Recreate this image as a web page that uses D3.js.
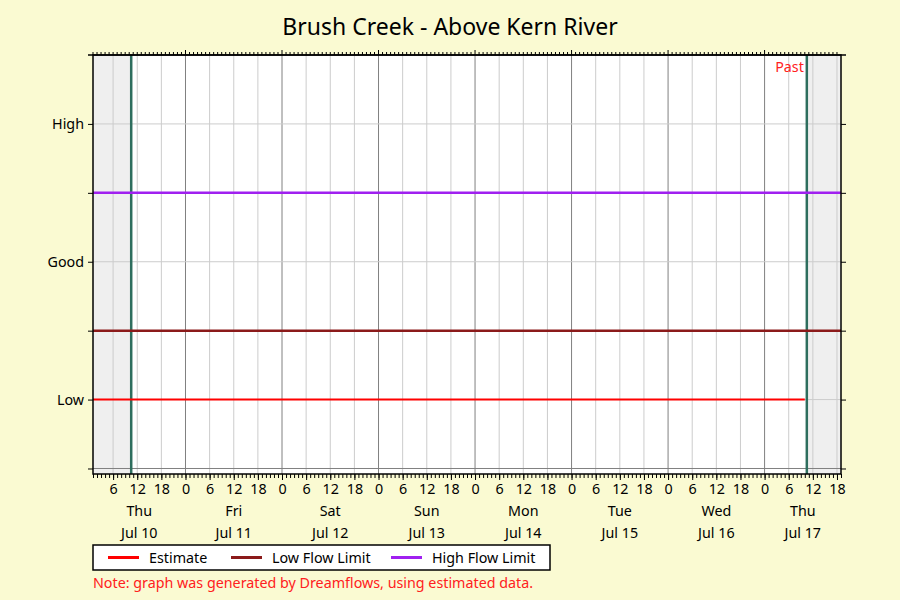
<!DOCTYPE html>
<html>
<head>
<meta charset="utf-8">
<script src="https://cdn.jsdelivr.net/npm/d3@7"></script>
<style>
  body { margin: 0; background: #fafad2; }
  text { font-family: "Noto Sans", "Open Sans", sans-serif; }
</style>
</head>
<body>
<svg id="chart" width="900" height="600"></svg>
<script>
// chart data
const title = "Brush Creek - Above Kern River";
const domainTimes = ["2025-07-10T01:00", "2025-07-17T19:00"];
const nowTimes = ["2025-07-10T10:30", "2025-07-17T10:30"];
const levelLabels = ["Low", "Good", "High"];
const levelValues = [1, 3, 5];
const estimateTimes = ["2025-07-10T01:00", "2025-07-17T10:00"];
const estimateValues = [1, 1];
const lowFlowLimit = 2;
const highFlowLimit = 4;
const legendLabels = ["Estimate", "Low Flow Limit", "High Flow Limit"];
const legendColors = ["#ff0000", "#8b1a1a", "#a020f0"];
const noteText = "Note: graph was generated by Dreamflows, using estimated data.";

const parse = d3.utcParse("%Y-%m-%dT%H:%M");
const svg = d3.select("#chart");
const fs = 14.3;

const margin = { top: 55, right: 59, bottom: 126, left: 93 };
const width = 900 - margin.left - margin.right;
const height = 600 - margin.top - margin.bottom;

const x = d3.scaleUtc()
    .domain(domainTimes.map(parse))
    .range([0, width]);

const y = d3.scaleLinear()
    .domain([-0.08, 6])
    .range([height, 0]);

svg.append("rect").attr("width", 900).attr("height", 600).attr("fill", "#fafad2");

svg.append("text")
    .attr("x", 450).attr("y", 35)
    .attr("text-anchor", "middle")
    .attr("font-size", 23)
    .text(title);

const g = svg.append("g").attr("transform", `translate(${margin.left},${margin.top})`);

// plot background + shaded regions
g.append("rect").attr("width", width).attr("height", height).attr("fill", "#fff");
const [t0, t1] = x.domain();
const nows = nowTimes.map(parse);
g.append("rect").attr("x", 0).attr("width", x(nows[0])).attr("height", height).attr("fill", "#efefef");
g.append("rect").attr("x", x(nows[1])).attr("width", width - x(nows[1])).attr("height", height).attr("fill", "#efefef");

// grid
const sixHours = d3.utcHour.every(6).range(t0, t1);
g.append("g").selectAll("line")
    .data(sixHours)
    .join("line")
    .attr("x1", d => x(d)).attr("x2", d => x(d))
    .attr("y1", 0).attr("y2", height)
    .attr("stroke", d => d.getUTCHours() === 0 ? "#808080" : "#cccccc")
    .attr("stroke-width", 1);

g.append("g").selectAll("line")
    .data([0, 1, 2, 3, 4, 5])
    .join("line")
    .attr("x1", 0).attr("x2", width)
    .attr("y1", d => y(d)).attr("y2", d => y(d))
    .attr("stroke", d => d === 0 ? "#808080" : "#cccccc");

// now lines
g.append("g").selectAll("line")
    .data(nows)
    .join("line")
    .attr("x1", d => x(d)).attr("x2", d => x(d))
    .attr("y1", 0).attr("y2", height)
    .attr("stroke", "#2e6e5e")
    .attr("stroke-width", 2.5);

g.append("text")
    .attr("x", x(nows[1]) - 3).attr("y", 17)
    .attr("text-anchor", "end")
    .attr("font-size", fs)
    .attr("fill", "#ff2020")
    .text("Past");

// limits
[[lowFlowLimit, legendColors[1]], [highFlowLimit, legendColors[2]]].forEach(([v, c]) => {
    g.append("line")
        .attr("x1", 0).attr("x2", width)
        .attr("y1", y(v)).attr("y2", y(v))
        .attr("stroke", c).attr("stroke-width", 2.5);
});

// estimate
const estimate = estimateTimes.map((t, i) => ({ t: parse(t), v: estimateValues[i] }));
g.append("path")
    .datum(estimate)
    .attr("fill", "none")
    .attr("stroke", legendColors[0])
    .attr("stroke-width", 2)
    .attr("d", d3.line().x(d => x(d.t)).y(d => y(d.v)));

// frame
g.append("rect").attr("width", width).attr("height", height)
    .attr("fill", "none").attr("stroke", "#000").attr("stroke-width", 1.5);
g.append("line").attr("x1", -5).attr("x2", width + 5).attr("y1", 0).attr("y2", 0)
    .attr("stroke", "#000").attr("stroke-width", 1.5);

// top ticks
const hours = d3.utcHour.every(1).range(t0, t1);
g.append("g").selectAll("line")
    .data(hours)
    .join("line")
    .attr("x1", d => x(d)).attr("x2", d => x(d))
    .attr("y1", 0).attr("y2", d => d.getUTCHours() === 0 ? -5 : -3)
    .attr("stroke", "#000");

// bottom axis: hourly minor ticks, 6h labels
g.append("g")
    .attr("transform", `translate(0,${height})`)
    .call(d3.axisBottom(x).ticks(d3.utcHour.every(1)).tickSize(4).tickFormat(""))
    .call(a => a.select(".domain").remove());

g.append("g")
    .attr("transform", `translate(0,${height})`)
    .call(d3.axisBottom(x).ticks(d3.utcHour.every(6)).tickSize(6).tickPadding(4)
        .tickFormat(d => d.getUTCHours()))
    .call(a => a.select(".domain").remove())
    .call(a => a.selectAll("text").attr("font-size", fs).attr("fill", "#000")
        .attr("font-family", "Noto Sans, sans-serif"));

// day labels centred on visible part of each day
const days = d3.utcDay.range(d3.utcDay.floor(t0), t1);
const dayFmt = d3.utcFormat("%a");
const dateFmt = d3.utcFormat("%b %-d");
days.forEach(d => {
    const a = Math.max(x(d), 0);
    const b = Math.min(x(d3.utcDay.offset(d, 1)), width);
    const cx = (a + b) / 2;
    g.append("text").attr("x", cx).attr("y", height + 42)
        .attr("text-anchor", "middle").attr("font-size", fs).text(dayFmt(d));
    g.append("text").attr("x", cx).attr("y", height + 64)
        .attr("text-anchor", "middle").attr("font-size", fs).text(dateFmt(d));
});

// left axis
g.append("g")
    .call(d3.axisLeft(y).tickValues([0, 1, 2, 3, 4, 5]).tickSize(5).tickPadding(4)
        .tickFormat(d => { const i = levelValues.indexOf(d); return i < 0 ? "" : levelLabels[i]; }))
    .call(a => a.select(".domain").remove())
    .call(a => a.selectAll("text").attr("font-size", fs).attr("fill", "#000")
        .attr("font-family", "Noto Sans, sans-serif"));

// right axis
g.append("g")
    .attr("transform", `translate(${width},0)`)
    .call(d3.axisRight(y).tickValues([0, 1, 2, 3, 4, 5]).tickSize(5).tickFormat(""))
    .call(a => a.select(".domain").remove());

// legend
const lg = svg.append("g").attr("transform", "translate(93,545)");
lg.append("rect").attr("width", 457).attr("height", 25)
    .attr("fill", "#fff").attr("stroke", "#000").attr("stroke-width", 1.5);
const legendX = [15, 138, 298];
legendLabels.forEach((name, i) => {
    lg.append("line")
        .attr("x1", legendX[i]).attr("x2", legendX[i] + 31)
        .attr("y1", 12.5).attr("y2", 12.5)
        .attr("stroke", legendColors[i]).attr("stroke-width", 3);
    lg.append("text")
        .attr("x", legendX[i] + 41).attr("y", 17.5)
        .attr("font-size", fs).text(name);
});

svg.append("text")
    .attr("x", 93).attr("y", 588)
    .attr("font-size", fs)
    .attr("fill", "#ff2020")
    .text(noteText);
</script>
</body>
</html>
